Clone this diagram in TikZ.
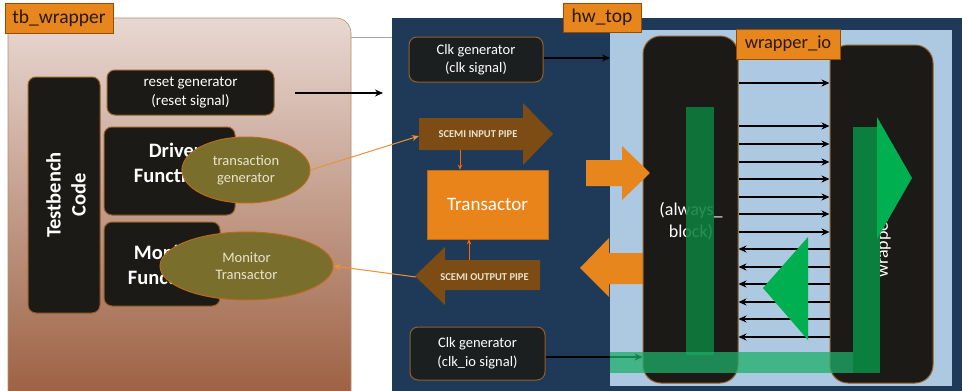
\documentclass[tikz,border=0pt]{standalone}
\usepackage{fontspec}
\setmainfont{Carlito}
\usetikzlibrary{arrows.meta,shapes.geometric}
\definecolor{navy}{RGB}{30,58,88}
\definecolor{lblue}{RGB}{173,200,225}
\definecolor{orgA}{RGB}{232,134,30}
\definecolor{orgB}{RGB}{232,132,26}
\definecolor{pipebr}{RGB}{125,75,20}
\definecolor{blkfill}{RGB}{28,26,22}
\definecolor{blkbd}{RGB}{150,95,40}
\definecolor{olive}{RGB}{122,110,45}
\definecolor{dgreen}{RGB}{11,128,62}
\definecolor{bgreen}{RGB}{0,176,80}
\definecolor{tgreen}{RGB}{30,175,105}
\definecolor{tbtop}{RGB}{232,216,210}
\definecolor{tbmid}{RGB}{195,158,142}
\definecolor{tbbot}{RGB}{158,98,68}
\definecolor{labtxt}{RGB}{40,25,10}
\definecolor{cream}{RGB}{235,228,205}
\begin{document}
\begin{tikzpicture}[x=1pt,y=-1pt,
  lbl/.style={draw=orange!60!black, line width=0.6pt, fill=orgA, text=labtxt,
    font=\fontsize{19.5}{20}\selectfont, inner sep=0pt},
  blk/.style={draw=blkbd, line width=1pt, fill=blkfill, rounded corners=8pt,
    text=white, align=center, inner sep=0pt},
  bigblk/.style={draw=blkbd, line width=1pt, fill=blkfill, rounded corners=18pt, inner sep=0pt},
  ell/.style={ellipse, draw=orgA!80!black, line width=1pt, fill=olive, text=cream,
    align=center, inner sep=0pt, font=\fontsize{14.5}{17.5}\selectfont},
  oline/.style={draw=orgA!90!white, line width=1pt, -{Stealth[length=7pt,width=6pt]}},
  sline/.style={draw=orange!80!red, line width=0.9pt, -{Stealth[length=5pt,width=4.5pt]}},
  kline/.style={draw=black, line width=1.1pt, -{Stealth[length=8pt,width=7pt]}},
  io/.style={draw=black, line width=1.3pt, -{Stealth[length=8pt,width=7pt]}},
  pipetxt/.style={text=cream, font=\bfseries\fontsize{10.5}{11}\selectfont, inner sep=0pt},
  bigtxt/.style={text=white, align=center, font=\bfseries\fontsize{20.5}{25}\selectfont}
]
\useasboundingbox (0,0) rectangle (962,391);
\fill[white] (0,0) rectangle (962,391);

% ---------------- tb_wrapper ----------------
\shade[top color=tbtop, middle color=tbmid, bottom color=tbbot]
  (8,391) -- (8,18) -- (336,18) arc[start angle=-90, end angle=0, radius=15] -- (351,391) -- cycle;
\draw[draw=blkbd!70, line width=0.6pt]
  (8,391) -- (8,18) -- (336,18) arc[start angle=-90, end angle=0, radius=15] -- (351,391);
\draw[gray!70, line width=0.8pt] (351,37) -- (392,37);

\node[blk, minimum width=72pt, minimum height=236pt] (tbc) at (64,195) {};
\node[bigtxt, rotate=90] (tbctxt) at (66,195) {Testbench\\Code};
\node[blk, minimum width=167pt, minimum height=45pt, font=\fontsize{15}{19}\selectfont] (reset) at (190.5,92.5) {reset generator\\(reset signal)};
\node[blk, minimum width=131pt, minimum height=88pt] (driver) at (169.5,171) {};
\node[bigtxt] (drvtxt) at (175,163) {Driver\\Functions};
\node[blk, minimum width=116pt, minimum height=84pt] (monitor) at (162,264) {};
\node[bigtxt] (montxt) at (169,265) {Monitor\\Functions};
\node[ell, minimum width=128pt, minimum height=66pt] (tgen) at (246,170) {transaction\\generator};
\node[ell, minimum width=173pt, minimum height=68pt] (montr) at (246.5,266) {Monitor\\Transactor};

\coordinate (rsstart) at (295,93);
\coordinate (rsend) at (383,93);
\draw[kline] (rsstart) -- (rsend);

% ---------------- hw_top ----------------
\fill[navy] (392,18) rectangle (962,391);
\fill[lblue] (610,30) rectangle (952,386);
\coordinate (lbW) at (610,58);

\node[blk, fill=blkfill!85!navy, minimum width=134pt, minimum height=45pt, font=\fontsize{14.5}{18}\selectfont] (clk1) at (476,59.5) {Clk generator\\(clk signal)};
\node[blk, fill=blkfill!85!navy, minimum width=135pt, minimum height=53pt, font=\fontsize{14.5}{19}\selectfont] (clk2) at (477.5,353.5) {Clk generator\\(clk\_io signal)};
\draw[kline] (clk1.east |- lbW) -- (lbW);

% pipes
\fill[pipebr] (419,118) -- (523,118) -- (523,103) -- (553,134) -- (523,165) -- (523,150) -- (419,150) -- cycle;
\node[pipetxt] (inpipe) at (478,134) {SCEMI INPUT PIPE};
\fill[pipebr] (540,260) -- (445,260) -- (445,247) -- (415,276) -- (445,305) -- (445,290) -- (540,290) -- cycle;
\node[pipetxt] (outpipe) at (484.5,277) {SCEMI OUTPUT PIPE};
\coordinate (inL) at (419,136);
\coordinate (outL) at (416,277);
\coordinate (inB) at (460,150);
\coordinate (outT) at (469,260);

\node[draw=orgB!80!black, line width=0.6pt, fill=orgB, text=white, minimum width=121pt, minimum height=69pt,
  font=\fontsize{19}{22}\selectfont, inner sep=0pt] (trans) at (487.5,204.5) {Transactor};
\draw[sline] (inB) -- (trans.north -| inB);
\draw[sline] (outT) -- (trans.south -| outT);

\draw[oline] (tgen.east) -- (inL);
\draw[oline] (outL) -- (montr.east);

% big orange arrow pointing left (under the box)
\fill[orgA] (643,253) -- (609,253) -- (609,238) -- (580,268) -- (609,297) -- (609,284) -- (643,284) -- cycle;

% black boxes
\node[bigblk, minimum width=95pt, minimum height=347pt] (lbox) at (690.5,209.5) {};
\node[bigblk, minimum width=103pt, minimum height=338pt] (rbox) at (881.5,214) {};
\node[text=white, align=center, font=\fontsize{18}{22}\selectfont] (lboxtxt) at (691,221) {(always\_\\block)};
\node[text=white, rotate=90, anchor=west, font=\fontsize{18}{20}\selectfont] (rboxtxt) at (885,281) {wrapper};

% green bars
\fill[dgreen, opacity=0.88] (686,107) rectangle (714,355);
\fill[dgreen] (853,127) rectangle (880,373);

% wrapper_io arrows
\foreach \yy in {83,126,144,162,179,197,214,232}
  \draw[io] (lbox.east |- 0,\yy) -- (rbox.west |- 0,\yy);
\foreach \yy in {249,267,284,302,319,337}
  \draw[io] (rbox.west |- 0,\yy) -- (lbox.east |- 0,\yy);

% green triangles
\fill[bgreen] (808,237) -- (763,288) -- (808,340) -- cycle;
\fill[bgreen] (877,117) -- (912,178) -- (877,239) -- cycle;

% clk_io arrow and translucent bar
\draw[kline] (clk2.east |- 0,357) -- (lbox.west |- 0,357);
\fill[tgreen, opacity=0.75] (610,352) rectangle (853,373);

% big orange arrow pointing right (over the box)
\fill[orgA] (586,160) -- (622,160) -- (622,146) -- (650,173) -- (622,200) -- (622,186) -- (586,186) -- cycle;

% labels
\node[lbl, minimum width=108pt, minimum height=30pt] (tblabel) at (59,18) {tb\_wrapper};
\node[lbl, minimum width=78pt, minimum height=29pt] (hwlabel) at (602,17.5) {hw\_top};
\node[lbl, minimum width=104pt, minimum height=30pt, font=\fontsize{18.5}{20}\selectfont] (iolabel) at (788,44) {wrapper\_io};
\end{tikzpicture}
\end{document}
